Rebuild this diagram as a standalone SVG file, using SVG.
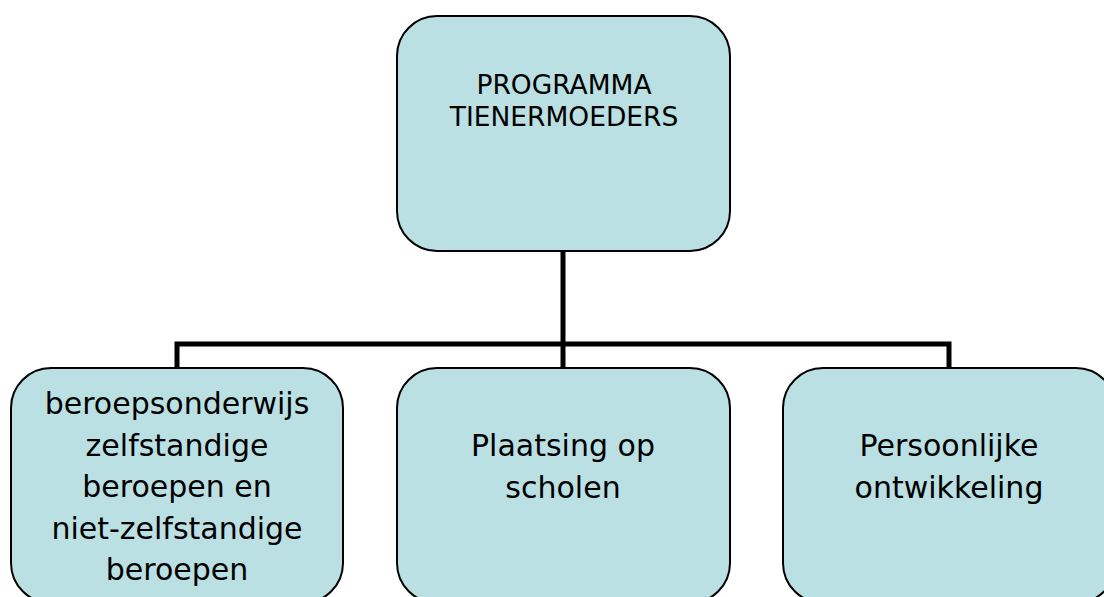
<svg xmlns="http://www.w3.org/2000/svg" width="1104" height="597" viewBox="0 0 1104 597">
  <style>
    .box { fill: #BAE0E3; stroke: #000; stroke-width: 2; }
    .conn { fill: none; stroke: #000; stroke-width: 5; stroke-linejoin: miter; stroke-linecap: butt; }
    .t { font-family: "DejaVu Sans", "Liberation Sans", sans-serif; fill: #000; text-anchor: middle; }
    .top { font-size: 26.5px; }
    .bot { font-size: 30px; }
  </style>
  <rect width="1104" height="597" fill="#fff"/>
  <g id="connectors">
    <path class="conn" d="M563,251 V368"/>
    <path class="conn" d="M177,368 V344 H949 V368"/>
  </g>
  <g id="node-top">
    <rect class="box" x="397" y="16" width="333" height="235" rx="40" ry="40"/>
    <text class="t top" x="564" y="94">PROGRAMMA</text>
    <text class="t top" x="564" y="126">TIENERMOEDERS</text>
  </g>
  <g id="node-left">
    <rect class="box" x="11" y="368" width="332" height="235" rx="40" ry="40"/>
    <text class="t bot" x="177" y="414">beroepsonderwijs</text>
    <text class="t bot" x="177" y="456">zelfstandige</text>
    <text class="t bot" x="177" y="497">beroepen en</text>
    <text class="t bot" x="177" y="539">niet-zelfstandige</text>
    <text class="t bot" x="177" y="580">beroepen</text>
  </g>
  <g id="node-middle">
    <rect class="box" x="397" y="368" width="333" height="235" rx="40" ry="40"/>
    <text class="t bot" x="563" y="456">Plaatsing op</text>
    <text class="t bot" x="563" y="498">scholen</text>
  </g>
  <g id="node-right">
    <rect class="box" x="783" y="368" width="333" height="235" rx="40" ry="40"/>
    <text class="t bot" x="949" y="456">Persoonlijke</text>
    <text class="t bot" x="949" y="498">ontwikkeling</text>
  </g>
</svg>
